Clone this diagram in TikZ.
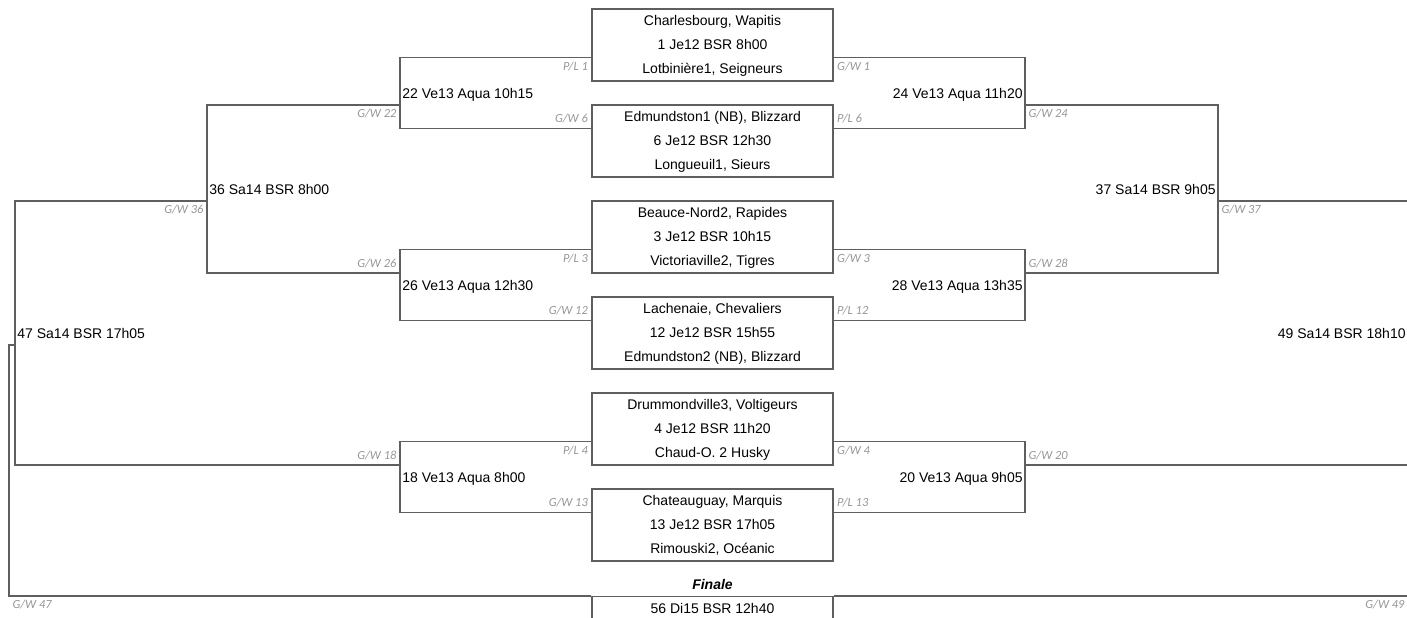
\documentclass[tikz,border=0pt]{standalone}
\usepackage{fontspec}
\setmainfont{Liberation Sans}
\newfontfamily\tagfont{Carlito}
\usetikzlibrary{calc}
\usetikzlibrary{positioning}
\definecolor{linegray}{RGB}{95, 95, 95}
\definecolor{taggray}{RGB}{150, 150, 150}

\tikzset{
  link/.style={draw=linegray, line width=0.6pt},
  matchbox/.style={draw=linegray, line width=0.6pt, minimum width=120.5pt, minimum height=36pt,
                   inner sep=0pt, align=center, font=\fontsize{7}{12}\selectfont},
  finalbox/.style={draw=linegray, line width=0.6pt, minimum width=120.5pt, inner sep=0pt,
                   text height=8.4pt, text depth=30pt, font=\fontsize{7}{12}\selectfont},
  roundtext/.style={inner xsep=1pt, inner ysep=0pt, text height=5pt, text depth=0pt,
                    font=\fontsize{7}{12}\selectfont},
  tag/.style={inner xsep=1.5pt, inner ysep=2pt, text height=4pt, text depth=0.5pt,
              text=taggray, font=\tagfont\itshape\fontsize{6.2}{7}\selectfont},
}

\begin{document}
\begin{tikzpicture}[x=0.5pt, y=-0.5pt]
            \useasboundingbox (0,0) rectangle (1407,617);
            \clip (0,0) rectangle (1407,617);

            % first round
            \node[matchbox] (g1)  at (712.5, 45) {\strut Charlesbourg, Wapitis\\\strut 1 Je12 BSR 8h00\\\strut Lotbinière1, Seigneurs};
            \node[matchbox] (g6)  at (712.5,141) {\strut Edmundston1 (NB), Blizzard\\\strut 6 Je12 BSR 12h30\\\strut Longueuil1, Sieurs};
            \node[matchbox] (g3)  at (712.5,237) {\strut Beauce-Nord2, Rapides\\\strut 3 Je12 BSR 10h15\\\strut Victoriaville2, Tigres};
            \node[matchbox] (g12) at (712.5,333) {\strut Lachenaie, Chevaliers\\\strut 12 Je12 BSR 15h55\\\strut Edmundston2 (NB), Blizzard};
            \node[matchbox] (g4)  at (712.5,429) {\strut Drummondville3, Voltigeurs\\\strut 4 Je12 BSR 11h20\\\strut Chaud-O. 2 Husky};
            \node[matchbox] (g13) at (712.5,525) {\strut Chateauguay, Marquis\\\strut 13 Je12 BSR 17h05\\\strut Rimouski2, Océanic};

            \node[font=\bfseries\itshape\fontsize{7}{12}\selectfont] (fin) at (712.5,584) {Finale};
            \node[finalbox, anchor=north] (g56) at (712.5,596) {56 Di15 BSR 12h40};

            % later rounds
            \node[roundtext, anchor=west] (m22) at ( 400, 93) {22 Ve13 Aqua 10h15};
            \node[roundtext, anchor=east] (m24) at (1025, 93) {24 Ve13 Aqua 11h20};
            \node[roundtext, anchor=west] (m26) at ( 400,285) {26 Ve13 Aqua 12h30};
            \node[roundtext, anchor=east] (m28) at (1025,285) {28 Ve13 Aqua 13h35};
            \node[roundtext, anchor=west] (m18) at ( 400,477) {18 Ve13 Aqua 8h00};
            \node[roundtext, anchor=east] (m20) at (1025,477) {20 Ve13 Aqua 9h05};
            \node[roundtext, anchor=west] (m36) at ( 207,189) {36 Sa14 BSR 8h00};
            \node[roundtext, anchor=east] (m37) at (1218,189) {37 Sa14 BSR 9h05};
            \node[roundtext, anchor=west] (m47) at (  15,333) {47 Sa14 BSR 17h05};
            \node[roundtext, anchor=east] (m49) at (1408,333) {49 Sa14 BSR 18h10};
            \coordinate (k47) at (   9,596);
            \coordinate (k49) at (1408,596);

            \draw[link] ($(g1.south west)+(0,-24)$)  node[tag, anchor=north east] {P/L 1}  -| (m22.west) |- ($(g6.north west)+(0,24)$)  node[tag, anchor=south east] {G/W 6};
            \draw[link] ($(g1.south east)+(0,-24)$)  node[tag, anchor=north west] {G/W 1}  -| (m24.east) |- ($(g6.north east)+(0,24)$)  node[tag, anchor=south west] {P/L 6};
            \draw[link] ($(g3.south west)+(0,-24)$)  node[tag, anchor=north east] {P/L 3}  -| (m26.west) |- ($(g12.north west)+(0,24)$) node[tag, anchor=south east] {G/W 12};
            \draw[link] ($(g3.south east)+(0,-24)$)  node[tag, anchor=north west] {G/W 3}  -| (m28.east) |- ($(g12.north east)+(0,24)$) node[tag, anchor=south west] {P/L 12};
            \draw[link] ($(g4.south west)+(0,-24)$)  node[tag, anchor=north east] {P/L 4}  -| (m18.west) |- ($(g13.north west)+(0,24)$) node[tag, anchor=south east] {G/W 13};
            \draw[link] ($(g4.south east)+(0,-24)$)  node[tag, anchor=north west] {G/W 4}  -| (m20.east) |- ($(g13.north east)+(0,24)$) node[tag, anchor=south west] {P/L 13};

            \draw[link] ($(m22.west)+(0,12)$) node[tag, anchor=north east] {G/W 22} -| (m36.west) |- ($(m26.west)+(0,-12)$) node[tag, anchor=south east] {G/W 26};
            \draw[link] ($(m24.east)+(0,12)$) node[tag, anchor=north west] {G/W 24} -| (m37.east) |- ($(m28.east)+(0,-12)$) node[tag, anchor=south west] {G/W 28};
            \draw[link] ($(m36.west)+(0,12)$) node[tag, anchor=north east] {G/W 36} -| (m47.west) |- ($(m18.west)+(0,-12)$) node[tag, anchor=south east] {G/W 18};
            \draw[link] ($(m37.east)+(0,12)$) node[tag, anchor=north west] {G/W 37} -| (m49.east) |- ($(m20.east)+(0,-12)$) node[tag, anchor=south west] {G/W 20};

            % finale
            \draw[link] ($(m47.west)+(0,12)$) -| (k47) node[tag, anchor=north west] {G/W 47} -- (g56.north west);
            \draw[link] ($(m49.east)+(0,12)$) -| (k49) node[tag, anchor=north east] {G/W 49} -- (g56.north east);
\end{tikzpicture}
\end{document}
